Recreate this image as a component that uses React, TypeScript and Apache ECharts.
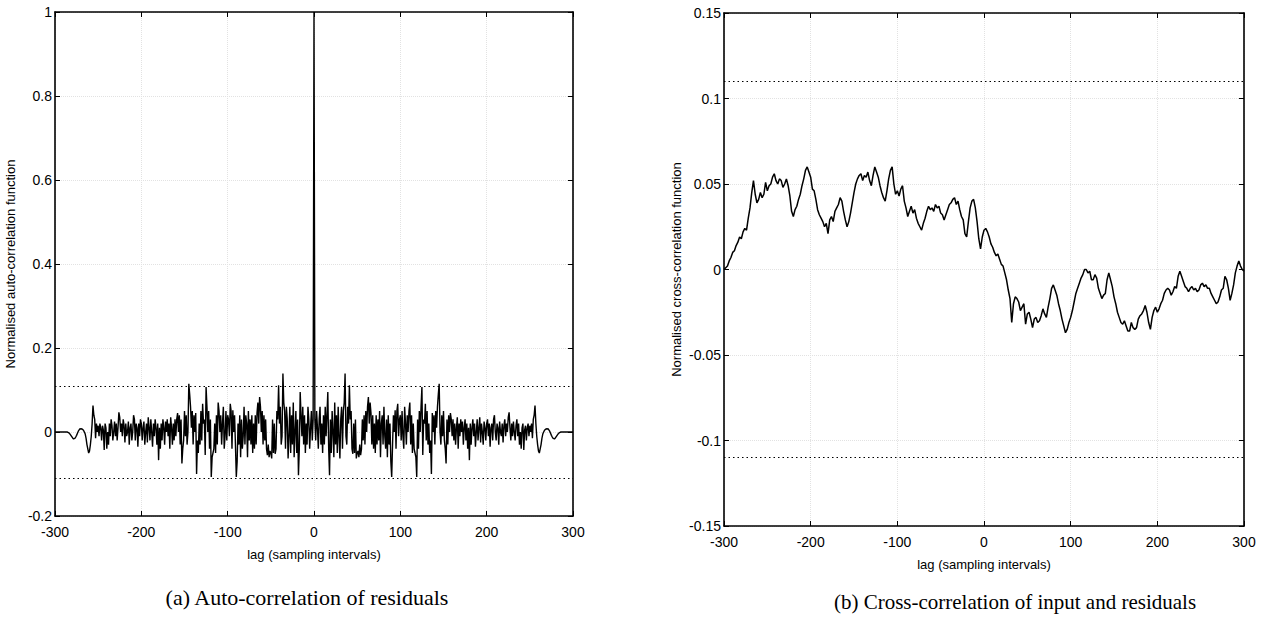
import React, { useEffect, useRef } from "react";
import * as echarts from "echarts";

// ---------- Data ----------
// (a) Normalised auto-correlation of residuals, lags 0..300 (symmetric: r(-k) = r(k))
const acfPositiveLags: number[] = [
  1.0,
  0.03, -0.02, 0.05, 0.01, -0.04, 0.03, 0.06, -0.03, 0.02, -0.05,
  0.04, -0.03, 0.06, -0.01, 0.04, 0.095, -0.04, -0.103, 0.03, -0.05,
  0.05, 0.0, -0.06, 0.07, -0.03, 0.04, -0.05, 0.06, -0.01, -0.063,
  0.03, 0.06, -0.04, 0.05, 0.07, 0.139, -0.01, -0.03, 0.06, 0.02,
  0.111, 0.03, 0.05, -0.04, -0.052, 0.02, -0.05, 0.03, -0.063, -0.05,
  -0.045, -0.06, -0.03, -0.055, -0.04, 0.03, -0.02, 0.04, -0.03, 0.05,
  0.0, 0.06, 0.083, 0.02, 0.07, 0.045, -0.03, 0.04, -0.04, 0.02,
  -0.05, 0.04, -0.03, 0.03, -0.02, 0.05, -0.06, 0.02, 0.04, -0.03,
  0.06, -0.01, -0.04, 0.03, -0.06, 0.04, -0.03, 0.02, -0.07, -0.107,
  -0.03, 0.04, 0.0, 0.052, -0.04, 0.05, 0.067, -0.01, 0.03, 0.04,
  -0.02, 0.05, -0.01, -0.04, 0.06, 0.02, -0.03, 0.04, 0.0, 0.05,
  0.07, -0.03, 0.04, -0.05, 0.02, -0.04, -0.05, -0.06, -0.107, 0.03,
  -0.04, 0.05, 0.0, 0.06, 0.107, -0.055, 0.03, 0.02, 0.067, -0.02,
  0.05, -0.03, 0.02, -0.05, -0.02, -0.1, 0.045, 0.0, 0.04, -0.03,
  0.05, 0.01, 0.06, 0.09, 0.115, 0.0, -0.03, 0.04, -0.01, 0.05,
  -0.02, -0.04, -0.075, 0.03, -0.03, 0.04, 0.0, 0.045, 0.03, -0.01,
  0.03, -0.02, 0.02, -0.03, 0.01, 0.035, -0.04, 0.02, -0.01, 0.03,
  0.0, 0.025, -0.03, 0.01, 0.03, -0.02, 0.02, -0.04, 0.01, -0.067,
  0.02, -0.03, 0.01, 0.03, -0.01, 0.02, -0.035, 0.0, 0.03, -0.02,
  0.01, 0.035, -0.025, 0.02, 0.0, -0.03, 0.025, 0.01, -0.02, 0.02,
  0.03, -0.01, 0.02, -0.035, 0.01, 0.02, -0.02, 0.03, 0.04, 0.0,
  -0.02, 0.02, 0.01, -0.03, 0.025, 0.0, -0.01, 0.02, -0.025, 0.015,
  0.03, -0.01, 0.02, 0.0, 0.035, 0.047, 0.01, -0.02, 0.02, -0.01,
  0.025, 0.0, -0.02, 0.015, 0.03, -0.01, 0.02, -0.03, 0.0, -0.04,
  0.01, 0.02, -0.043, 0.005, 0.015, -0.02, 0.01, 0.02, -0.01, 0.015,
  0.0, 0.02, -0.015, 0.03, 0.04, 0.063, 0.02, -0.01, -0.03, -0.045,
  -0.05, -0.04, -0.03, -0.015, -0.005, 0.0, 0.004, 0.006, 0.008, 0.007,
  0.008, 0.005, 0.002, -0.003, -0.008, -0.012, -0.015, -0.016, -0.016, -0.013,
  -0.01, -0.007, -0.004, -0.002, -0.001, 0.0, 0.0, 0.0, 0.0, 0.0,
  0, 0, 0, 0, 0, 0, 0, 0, 0, 0,
];

// (b) Normalised cross-correlation of input and residuals, lags -300..300 every 2
const ccfValues: number[] = [
  0.000, 0.001, 0.002, 0.005, 0.007, 0.010, 0.011, 0.014, 0.016, 0.019,
  0.018, 0.022, 0.024, 0.023, 0.030, 0.036, 0.045, 0.052, 0.044, 0.039,
  0.041, 0.045, 0.042, 0.044, 0.051, 0.046, 0.049, 0.050, 0.054, 0.056,
  0.052, 0.050, 0.053, 0.052, 0.048, 0.050, 0.053, 0.049, 0.043, 0.034,
  0.031, 0.035, 0.037, 0.041, 0.044, 0.049, 0.053, 0.058, 0.060, 0.057,
  0.054, 0.047, 0.046, 0.041, 0.035, 0.032, 0.030, 0.028, 0.025, 0.027,
  0.021, 0.029, 0.031, 0.028, 0.034, 0.036, 0.038, 0.042, 0.040, 0.034,
  0.029, 0.025, 0.028, 0.033, 0.039, 0.045, 0.050, 0.053, 0.055, 0.056,
  0.052, 0.055, 0.054, 0.057, 0.052, 0.049, 0.055, 0.060, 0.057, 0.054,
  0.049, 0.045, 0.042, 0.040, 0.046, 0.053, 0.058, 0.060, 0.050, 0.044,
  0.046, 0.043, 0.047, 0.049, 0.040, 0.036, 0.031, 0.034, 0.037, 0.033,
  0.035, 0.030, 0.027, 0.025, 0.023, 0.027, 0.030, 0.034, 0.037, 0.035,
  0.036, 0.034, 0.038, 0.036, 0.037, 0.033, 0.032, 0.029, 0.032, 0.035,
  0.038, 0.039, 0.041, 0.042, 0.038, 0.040, 0.035, 0.031, 0.029, 0.021,
  0.019, 0.028, 0.036, 0.040, 0.041, 0.036, 0.028, 0.018, 0.012, 0.019,
  0.023, 0.024, 0.022, 0.019, 0.015, 0.013, 0.010, 0.008, 0.009, 0.006,
  0.003, 0.002, -0.002, -0.006, -0.012, -0.017, -0.031, -0.020, -0.016, -0.017,
  -0.019, -0.024, -0.022, -0.020, -0.032, -0.026, -0.025, -0.029, -0.034, -0.029,
  -0.028, -0.031, -0.030, -0.027, -0.023, -0.026, -0.028, -0.022, -0.017, -0.011,
  -0.009, -0.012, -0.015, -0.020, -0.024, -0.029, -0.033, -0.037, -0.035, -0.031,
  -0.028, -0.024, -0.019, -0.014, -0.011, -0.008, -0.005, -0.003, 0.000, 0.000,
  -0.002, -0.001, -0.006, -0.006, -0.003, -0.005, -0.011, -0.014, -0.017, -0.015,
  -0.014, -0.006, -0.002, -0.006, -0.010, -0.016, -0.020, -0.025, -0.028, -0.031,
  -0.032, -0.030, -0.033, -0.036, -0.036, -0.031, -0.034, -0.035, -0.034, -0.029,
  -0.027, -0.026, -0.024, -0.021, -0.025, -0.031, -0.035, -0.028, -0.024, -0.022,
  -0.025, -0.023, -0.020, -0.018, -0.014, -0.012, -0.011, -0.012, -0.015, -0.013,
  -0.010, -0.011, -0.004, -0.001, -0.004, -0.007, -0.010, -0.011, -0.013, -0.011,
  -0.010, -0.012, -0.011, -0.013, -0.012, -0.009, -0.008, -0.010, -0.009, -0.011,
  -0.011, -0.014, -0.016, -0.018, -0.020, -0.019, -0.016, -0.012, -0.011, -0.004,
  -0.006, -0.011, -0.018, -0.014, -0.009, -0.002, 0.002, 0.005, 0.002, 0.000,
  -0.001,
];

const acfBounds: number[] = [0.113, -0.113];
const ccfBounds: number[] = [0.113, -0.114];

const xTitle = "lag (sampling intervals)";
const acfYTitle = "Normalised auto-correlation function";
const ccfYTitle = "Normalised cross-correlation function";
const captionA = "(a) Auto-correlation of residuals";
const captionB = "(b) Cross-correlation of input and residuals";

// Build series data from the arrays
const acfData: [number, number][] = [];
for (let k = -300; k <= 300; k++) {
  acfData.push([k, acfPositiveLags[Math.abs(k)]]);
}
const ccfData: [number, number][] = ccfValues.map((v, i) => [-300 + 2 * i, v]);

const SANS = '"Liberation Sans", Arial, Helvetica, sans-serif';
const SERIF = '"Liberation Serif", "Times New Roman", serif';

function xAxisDef(gridIndex: number, position: "bottom" | "top", main: boolean) {
  return {
    type: "value",
    gridIndex,
    position,
    min: -300,
    max: 300,
    interval: 100,
    name: main ? xTitle : "",
    nameLocation: "middle",
    nameGap: 32,
    nameTextStyle: { color: "#000", fontSize: 13, fontFamily: SANS },
    axisLine: { show: true, onZero: false, lineStyle: { color: "#000", width: 1.6 } },
    axisTick: { show: true, inside: true, length: 5, lineStyle: { color: "#000", width: 1 } },
    axisLabel: { show: main, color: "#000", fontSize: 14, fontFamily: SANS, margin: 9 },
    splitLine: main
      ? { show: true, lineStyle: { color: "#e2e2e2", type: "dotted", width: 1 } }
      : { show: false },
  };
}

function yAxisDef(
  gridIndex: number,
  position: "left" | "right",
  main: boolean,
  min: number,
  max: number,
  interval: number,
  name: string,
  nameGap: number
) {
  return {
    type: "value",
    gridIndex,
    position,
    min,
    max,
    interval,
    name: main ? name : "",
    nameLocation: "middle",
    nameGap,
    nameRotate: 90,
    nameTextStyle: { color: "#000", fontSize: 13, fontFamily: SANS },
    axisLine: { show: true, onZero: false, lineStyle: { color: "#000", width: 1.6 } },
    axisTick: { show: true, inside: true, length: 5, lineStyle: { color: "#000", width: 1 } },
    axisLabel: { show: main, color: "#000", fontSize: 14, fontFamily: SANS, margin: 3 },
    splitLine: main
      ? { show: true, lineStyle: { color: "#e2e2e2", type: "dotted", width: 1 } }
      : { show: false },
  };
}

function boundsMarkLine(bounds: number[]) {
  return {
    silent: true,
    symbol: ["none", "none"],
    label: { show: false },
    lineStyle: { color: "#000", type: [1.5, 3], width: 1 },
    data: bounds.map((b) => ({ yAxis: b })),
  };
}

export default function App() {
  const ref = useRef<HTMLDivElement>(null);

  useEffect(() => {
    if (!ref.current) return;
    const chart = echarts.init(ref.current, undefined, { renderer: "svg" });
    chart.setOption({
      animation: false,
      backgroundColor: "#fff",
      grid: [
        { left: 55, top: 12, width: 518, height: 504 },
        { left: 724, top: 13, width: 520, height: 513 },
      ],
      xAxis: [
        xAxisDef(0, "bottom", true),
        xAxisDef(0, "top", false),
        xAxisDef(1, "bottom", true),
        xAxisDef(1, "top", false),
      ],
      yAxis: [
        yAxisDef(0, "left", true, -0.2, 1, 0.2, acfYTitle, 38),
        yAxisDef(0, "right", false, -0.2, 1, 0.2, "", 0),
        yAxisDef(1, "left", true, -0.15, 0.15, 0.05, ccfYTitle, 41),
        yAxisDef(1, "right", false, -0.15, 0.15, 0.05, "", 0),
      ],
      series: [
        {
          type: "line",
          xAxisIndex: 0,
          yAxisIndex: 0,
          data: acfData,
          showSymbol: false,
          symbol: "none",
          lineStyle: { color: "#000", width: 1.4 },
          markLine: boundsMarkLine(acfBounds),
        },
        {
          type: "line",
          xAxisIndex: 2,
          yAxisIndex: 2,
          data: ccfData,
          showSymbol: false,
          symbol: "none",
          lineStyle: { color: "#000", width: 1.5 },
          markLine: boundsMarkLine(ccfBounds),
        },
      ],
      graphic: [
        {
          type: "text",
          x: 307,
          y: 597,
          style: {
            text: captionA,
            fontSize: 22,
            fontFamily: SERIF,
            fill: "#000",
            align: "center",
            verticalAlign: "middle",
          },
        },
        {
          type: "text",
          x: 1015,
          y: 602,
          style: {
            text: captionB,
            fontSize: 21,
            fontFamily: SERIF,
            fill: "#000",
            align: "center",
            verticalAlign: "middle",
          },
        },
      ],
    });
    return () => chart.dispose();
  }, []);

  return (
    <div
      ref={ref}
      style={{ position: "fixed", left: 0, top: 0, width: 1263, height: 620, background: "#fff" }}
    />
  );
}
